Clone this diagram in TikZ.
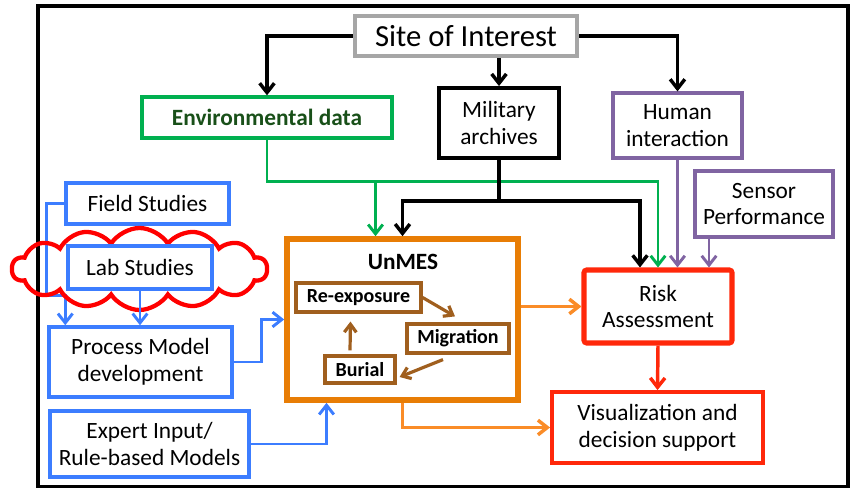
\documentclass[tikz,border=0pt]{standalone}
\usepackage{fontspec}
\setmainfont{Carlito}
\usepackage{tikz}
\usetikzlibrary{arrows.meta,shapes.symbols,calc}

\definecolor{sitegray}{RGB}{166,166,166}
\definecolor{envgreen}{RGB}{0,176,80}
\definecolor{envtext}{RGB}{25,80,25}
\definecolor{humpurple}{RGB}{128,100,162}
\definecolor{riskred}{RGB}{255,40,10}
\definecolor{unmesorange}{RGB}{232,125,5}
\definecolor{flowor}{RGB}{250,140,40}
\definecolor{procbrown}{RGB}{160,95,30}
\definecolor{studblue}{RGB}{60,125,255}
\definecolor{cloudred}{RGB}{255,0,0}

\tikzset{
  box/.style={draw, rectangle, inner sep=0pt, align=center, fill=white,
    font=\fontsize{17.5}{20}\selectfont},
  bbox/.style={box, draw=studblue, line width=2.6pt},
  pbox/.style={box, draw=humpurple, line width=2.4pt},
  subbox/.style={box, draw=procbrown, line width=2.4pt,
    font=\bfseries\fontsize{15}{17}\selectfont},
  barb/.style={-{Straight Barb[length=7pt,width=11pt]}},
  blkarr/.style={barb, draw=black, line width=2.6pt},
  grnarr/.style={barb, draw=envgreen, line width=2.2pt},
  purarr/.style={barb, draw=humpurple, line width=2.2pt},
  redarr/.style={barb, draw=riskred, line width=2.6pt},
  orarr/.style={barb, draw=flowor, line width=2.6pt},
  brarr/.style={-{Straight Barb[length=6pt,width=9pt]}, draw=procbrown, line width=2.4pt},
  bluarr/.style={barb, draw=studblue, line width=2.2pt},
}

\begin{document}
\begin{tikzpicture}[x=0.75pt,y=0.75pt,yscale=-1,xscale=1]
\path[use as bounding box] (0,0) rectangle (853,488);

% frame
\draw[line width=2.4pt] (38,6) rectangle (848,487);

% top row
\node[box, draw=sitegray, line width=3.2pt, minimum width=166.5pt, minimum height=30pt,
  font=\fontsize{23}{26}\selectfont] (site) at (466,36) {Site of Interest};
\node[box, draw=envgreen, line width=2.5pt, minimum width=187.5pt, minimum height=30.75pt,
  font=\bfseries\fontsize{17.5}{20}\selectfont, text=envtext] (env) at (267,117.5) {Environmental data};
\node[box, line width=2.9pt, minimum width=90pt, minimum height=52.5pt] (mil) at (499,123) {Military\\archives};
\node[pbox, minimum width=96.75pt, minimum height=48.75pt] (human) at (677.5,125.5) {Human\\interaction};
\node[pbox, minimum width=103.5pt, minimum height=49.5pt] (sensor) at (764,204) {Sensor\\Performance};

% UnMES
\node[box, draw=unmesorange, line width=4.2pt, minimum width=173.25pt, minimum height=120.75pt] (unmes) at (402.5,319.5) {};
\node[font=\bfseries\fontsize{17.5}{20}\selectfont] (unmeslbl) at (403,262) {UnMES};
\node[subbox, minimum width=93.75pt, minimum height=21.75pt] (reexp) at (358.5,297.5) {Re-exposure};
\node[subbox, minimum width=76.5pt, minimum height=21.75pt] (migr) at (458,338.5) {Migration};
\node[subbox, minimum width=52.5pt, minimum height=20.25pt] (burial) at (360,369.5) {Burial};

% outputs
\node[box, draw=riskred, line width=3.8pt, rounded corners=2pt, minimum width=111pt, minimum height=54.75pt] (risk) at (658,306.5) {Risk\\Assessment};
\node[box, draw=riskred, line width=2.9pt, minimum width=158.25pt, minimum height=53.25pt] (viz) at (657.5,427.5) {Visualization and\\decision support};

% blue inputs
\node[bbox, minimum width=122.25pt, minimum height=30.75pt] (field) at (147.5,203.5) {Field Studies};
\node[bbox, minimum width=137.25pt, minimum height=52.5pt] (process) at (140.5,362) {Process Model\\development};
\node[bbox, minimum width=149.25pt, minimum height=49.5pt] (expert) at (149.5,444) {Expert Input/\\Rule-based Models};

% site links
\draw[blkarr] (site.west) -| (env.north);
\draw[blkarr] (site.south -| mil.north) -- (mil.north);
\draw[blkarr] (site.east) -| (human.north);

% green
\draw[grnarr] (env.south) -- ++(0,42) coordinate (gbend) -| (risk.north);
\coordinate (gin) at ($(unmes.north)+(-27,0)$);
\draw[grnarr] (gin |- gbend) -- (gin);

% black
\draw[black, line width=2.6pt] (mil.south) -- ++(0,41) coordinate (mbend);
\draw[blkarr] (mbend) -| (unmes.north);
\coordinate (rinb) at ($(risk.north)+(-18,0)$);
\draw[blkarr] (mbend) -| (rinb);

% purple
\draw[purarr] (human.south) -- (human.south |- risk.north);
\coordinate (sout) at ($(sensor.south)+(-55,0)$);
\draw[purarr] (sout) -- (sout |- risk.north);

% outputs
\draw[redarr] (risk.south) -- (viz.north);
\draw[orarr] (unmes.east |- risk.west) -- (risk.west);
\draw[orarr] (unmes.south) |- (viz.west);

% cycle
\draw[brarr] (reexp.east) -- ($(migr.north)+(-3,-6)$);
\draw[brarr] ($(migr.south)+(-15,5)$) -- ($(burial.east)+(3,7.5)$);
\draw[brarr] ($(burial.north)+(-10,-4)$) -- ($(reexp.south)+(-8,8)$);

% blue
\draw[bluarr] (field.west) -- ++(-18,0) |- ($(process.north west)+(18,-30)$) -- ($(process.north west)+(18,0)$);
\node[cloud, draw=cloudred, line width=3.2pt, cloud puffs=14, cloud puff arc=115, aspect=3.1,
  minimum width=191.25pt, minimum height=61.5pt, inner sep=0pt] (labcloud) at (139.5,269) {};
\node[bbox, minimum width=108pt, minimum height=32.25pt] (lab) at (140,267.5) {Lab Studies};
\draw[bluarr] (lab.south) -- (lab.south |- process.north);
\draw[bluarr] (process.east) -- ++(28,0) |- (unmes.west);
\draw[bluarr] (expert.east) -| ($(unmes.south)+(-76,0)$);

\end{tikzpicture}
\end{document}
